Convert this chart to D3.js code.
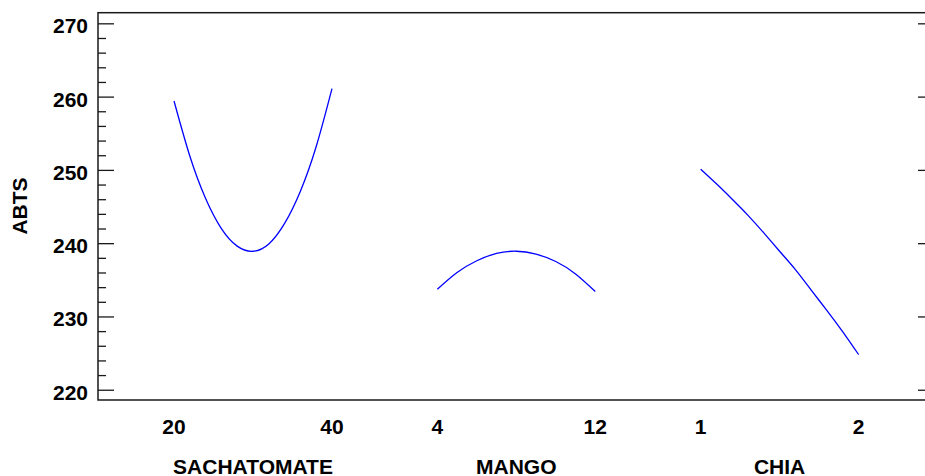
<!DOCTYPE html>
<html>
<head>
<meta charset="utf-8">
<script src="https://cdn.jsdelivr.net/npm/d3@7"></script>
<style>
  html, body { margin: 0; padding: 0; background: #fff; }
  svg { display: block; }
  text { font-family: "Liberation Sans", Arial, sans-serif; font-weight: bold; fill: #000; }
</style>
</head>
<body>
<svg id="chart" width="925" height="476"></svg>
<script>
// Factor names and their low / high settings
const factorNames = ["SACHATOMATE", "MANGO", "CHIA"];
const factorLow = [20, 4, 1];
const factorHigh = [40, 12, 2];

// Predicted ABTS across each factor's range
const sachatomateX = [20, 22, 24, 26, 28, 30, 32, 34, 36, 38, 40];
const sachatomateY = [259.4, 251.9, 246.1, 242.0, 239.6, 238.9, 239.9, 242.7, 247.1, 253.2, 261.1];

const mangoX = [4, 5, 6, 7, 8, 9, 10, 11, 12];
const mangoY = [233.7, 236.0, 237.6, 238.6, 238.9, 238.5, 237.5, 235.8, 233.4];

const chiaX = [1, 1.1, 1.2, 1.3, 1.4, 1.5, 1.6, 1.7, 1.8, 1.9, 2];
const chiaY = [250.1, 248.1, 246.0, 243.8, 241.4, 238.9, 236.4, 233.6, 230.8, 227.9, 224.8];

// Y axis ticks
const yMajorTicks = [220, 230, 240, 250, 260, 270];
const yMinorTicks = [222, 224, 226, 228, 232, 234, 236, 238, 242, 244, 246, 248,
                     252, 254, 256, 258, 262, 264, 266, 268];
const yLabel = "ABTS";

const seriesX = [sachatomateX, mangoX, chiaX];
const seriesY = [sachatomateY, mangoY, chiaY];

const svg = d3.select("#chart");
const frame = { left: 98, right: 926, top: 12.7, bottom: 400 };
const slotSpan = 0.6;   // fraction of a slot covered by a factor's range
const fontSize = 21;

const y = d3.scaleLinear().domain([218.6, 271.45]).range([frame.bottom, frame.top]);
const slot = d3.scaleLinear().domain([-0.2887, 2.856]).range([frame.left, frame.right]);

// Frame
svg.append("rect")
  .attr("x", frame.left).attr("y", frame.top)
  .attr("width", frame.right - frame.left).attr("height", frame.bottom - frame.top)
  .attr("fill", "none").attr("stroke", "#1a1a1a").attr("stroke-width", 1.5);

// Left axis: major and minor ticks pointing inward
const leftMajor = d3.axisRight(y).tickValues(yMajorTicks).tickSize(16).tickFormat("");
const leftMinor = d3.axisRight(y).tickValues(yMinorTicks).tickSize(8).tickFormat("");
[leftMajor, leftMinor].forEach(ax => {
  const g = svg.append("g").attr("transform", `translate(${frame.left},0)`).call(ax);
  g.select(".domain").remove();
  g.selectAll("line").attr("stroke", "#1a1a1a").attr("stroke-width", 1.3);
});

// Right axis: major ticks only
const rightG = svg.append("g").attr("transform", `translate(${frame.right},0)`)
  .call(d3.axisLeft(y).tickValues(yMajorTicks).tickSize(8).tickFormat(""));
rightG.select(".domain").remove();
rightG.selectAll("line").attr("stroke", "#1a1a1a").attr("stroke-width", 1.3);

// Y tick labels
svg.append("g").selectAll("text").data(yMajorTicks).join("text")
  .attr("x", 88).attr("y", d => y(d) + 10)
  .attr("text-anchor", "end").attr("font-size", fontSize)
  .text(d => d);

// Y axis title
svg.append("text")
  .attr("transform", "translate(27,206) rotate(-90)")
  .attr("text-anchor", "middle").attr("font-size", fontSize)
  .text(yLabel);

// Factor curves, tick labels and names
const line = d3.line().curve(d3.curveNatural);
factorNames.forEach((name, i) => {
  const x = d3.scaleLinear()
    .domain([factorLow[i], factorHigh[i]])
    .range([slot(i), slot(i + slotSpan)]);

  const pts = seriesX[i].map((v, j) => [x(v), y(seriesY[i][j])]);
  svg.append("path")
    .attr("d", line(pts))
    .attr("fill", "none").attr("stroke", "#0000ff").attr("stroke-width", 1.3);

  svg.append("g").selectAll("text").data([factorLow[i], factorHigh[i]]).join("text")
    .attr("x", d => x(d)).attr("y", 434)
    .attr("text-anchor", "middle").attr("font-size", fontSize)
    .text(d => d);

  svg.append("text")
    .attr("x", slot(i + slotSpan / 2)).attr("y", 474)
    .attr("text-anchor", "middle").attr("font-size", fontSize)
    .text(name);
});
</script>
</body>
</html>
